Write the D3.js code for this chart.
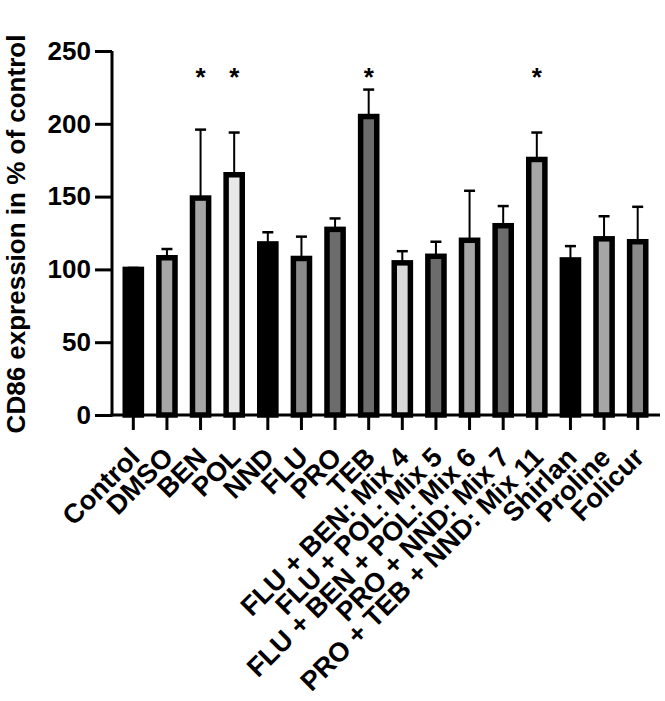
<!DOCTYPE html>
<html>
<head>
<meta charset="utf-8">
<script src="https://cdn.jsdelivr.net/npm/d3@7"></script>
<style>
  html, body { margin: 0; padding: 0; background: #ffffff; }
  svg { display: block; }
  text { font-family: "Liberation Sans", Arial, sans-serif; font-weight: bold; }
</style>
</head>
<body>
<svg id="chart" width="665" height="701"></svg>
<script>
const categories = ["Control", "DMSO", "BEN", "POL", "NND", "FLU", "PRO", "TEB",
  "FLU + BEN: Mix 4", "FLU + POL: Mix 5", "FLU + BEN + POL: Mix 6", "PRO + NND: Mix 7",
  "PRO + TEB + NND: Mix 11", "Shirlan", "Proline", "Folicur"];
const means = [100, 108, 149, 165, 117.5, 107.5, 127.5, 205, 104.5, 109, 120, 130, 175.5, 106.5, 121, 119];
const errors = [1, 6, 47, 29, 8, 15, 7.5, 18.5, 8, 10, 34, 13.5, 18.5, 9.5, 15.5, 24];
const significant = ["BEN", "POL", "TEB", "PRO + TEB + NND: Mix 11"];
const fills = ["#000000", "#a6a6a6", "#a6a6a6", "#e8e8e8", "#000000", "#8a8a8a", "#6c6c6c", "#6c6c6c",
  "#d9d9d9", "#6c6c6c", "#a6a6a6", "#6c6c6c", "#a6a6a6", "#000000", "#a6a6a6", "#8a8a8a"];
const yTicks = [0, 50, 100, 150, 200, 250];
const yTitle = "CD86 expression in % of control";
const starLevel = 236;

const svg = d3.select("#chart");
const x = d3.scaleBand().domain(categories).range([116.5, 654.5]).paddingInner(0.52).paddingOuter(0.26);
const y = d3.scaleLinear().domain([0, 250]).range([415, 51]);

const data = categories.map((c, i) => ({c, m: means[i], e: errors[i], f: fills[i]}));

// error bars (upper only)
const eb = svg.append("g").attr("stroke", "#000").attr("stroke-width", 2);
data.forEach(d => {
  const cx = x(d.c) + x.bandwidth() / 2;
  eb.append("line").attr("x1", cx).attr("x2", cx).attr("y1", y(d.m)).attr("y2", y(d.m + d.e));
  eb.append("line").attr("x1", cx - 5.5).attr("x2", cx + 5.5).attr("y1", y(d.m + d.e)).attr("y2", y(d.m + d.e)).attr("stroke-width", 2.5);
});

// bars
svg.append("g").selectAll("rect").data(data).join("rect")
  .attr("x", d => x(d.c))
  .attr("width", x.bandwidth())
  .attr("y", d => y(d.m))
  .attr("height", d => y(0) - y(d.m))
  .attr("fill", d => d.f)
  .attr("stroke", "#000")
  .attr("stroke-width", 5.5);

// stars
svg.append("g").selectAll("text").data(significant).join("text")
  .attr("x", d => x(d) + x.bandwidth() / 2)
  .attr("y", y(starLevel) + 15)
  .attr("text-anchor", "middle")
  .attr("font-size", 26)
  .text("*");

// y axis
const yAxis = svg.append("g").attr("transform", "translate(112,0)")
  .call(d3.axisLeft(y).tickValues(yTicks).tickSize(17).tickSizeOuter(0).tickPadding(4));
yAxis.selectAll("path, line").attr("stroke", "#000").attr("stroke-width", 3);
yAxis.select(".domain").attr("d", `M0,${y(250)}V${y(0) + 1.5}`);
yAxis.selectAll("text").attr("font-size", 26).attr("fill", "#000")
  .attr("font-family", "'Liberation Sans', Arial, sans-serif").attr("font-weight", "bold");

// x axis
const xAxis = svg.append("g").attr("transform", `translate(0,${y(0)})`)
  .call(d3.axisBottom(x).tickSize(15).tickSizeOuter(0));
xAxis.selectAll("path, line").attr("stroke", "#000").attr("stroke-width", 3);
xAxis.select(".domain").attr("d", "M110.5,0H660");
xAxis.selectAll("text")
  .attr("font-size", 27).attr("fill", "#000")
  .attr("font-family", "'Liberation Sans', Arial, sans-serif").attr("font-weight", "bold")
  .attr("text-anchor", "end")
  .attr("y", 0).attr("dy", 0)
  .attr("transform", "translate(8,44) rotate(-45)");

// y title
svg.append("text")
  .attr("transform", "translate(25,234) rotate(-90)")
  .attr("text-anchor", "middle")
  .attr("font-size", 26)
  .text(yTitle);
</script>
</body>
</html>
